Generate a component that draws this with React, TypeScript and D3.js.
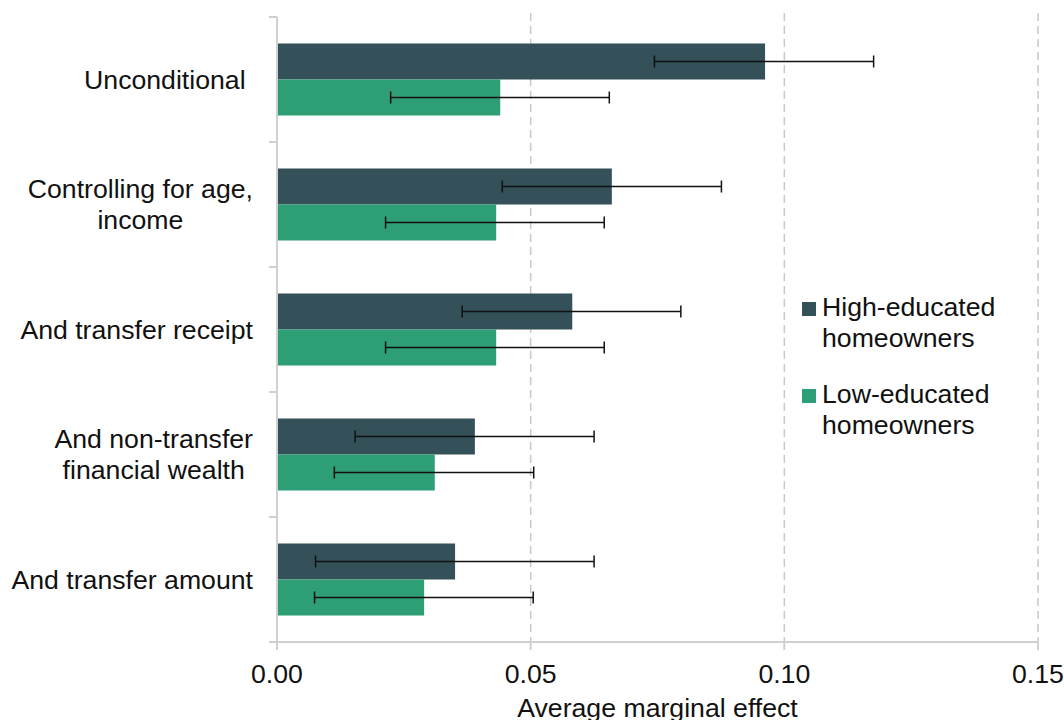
import React, { useEffect, useRef } from "react";
import * as d3 from "d3";

const categories = [
  "Unconditional ",
  "Controlling for age,\nincome",
  "And transfer receipt",
  "And non-transfer\nfinancial wealth",
  "And transfer amount",
];
const seriesNames = ["High-educated homeowners", "Low-educated homeowners"];
const legendLines = [["High-educated", "homeowners"], ["Low-educated", "homeowners"]];
const highValues = [0.0962, 0.066, 0.0582, 0.039, 0.0351];
const highLow = [0.0744, 0.0444, 0.0365, 0.0154, 0.0076];
const highHigh = [0.1176, 0.0876, 0.0796, 0.0625, 0.0625];
const lowValues = [0.044, 0.0432, 0.0432, 0.0311, 0.029];
const lowLow = [0.0224, 0.0214, 0.0214, 0.0113, 0.0074];
const lowHigh = [0.0655, 0.0645, 0.0645, 0.0506, 0.0505];
const xTicks = [0, 0.05, 0.1, 0.15];
const colors = ["#345058", "#2e9e74"];

const FONT = "'Liberation Sans', Arial, sans-serif";
const FS = 26.67;

export default function App() {
  const ref = useRef<SVGSVGElement | null>(null);
  useEffect(() => {
    const svg = d3.select(ref.current);
    svg.selectAll("*").remove();
    const x = d3.scaleLinear().domain([0, 0.15]).range([277, 1038]);
    const y = d3.scaleBand().domain(categories).range([17, 642]).paddingInner(0);
    const inner = d3
      .scaleBand()
      .domain(seriesNames)
      .range([0, y.bandwidth()])
      .paddingInner(0)
      .paddingOuter(0.736);

    const grid = svg.append("g");
    xTicks.slice(1).forEach((t) => {
      grid
        .append("line")
        .attr("x1", x(t))
        .attr("x2", x(t))
        .attr("y1", 13)
        .attr("y2", 642)
        .attr("stroke", "#c8c8c8")
        .attr("stroke-width", 1.5)
        .attr("stroke-dasharray", "8,5");
    });

    const series = [
      { name: seriesNames[0], v: highValues, lo: highLow, hi: highHigh, c: colors[0] },
      { name: seriesNames[1], v: lowValues, lo: lowLow, hi: lowHigh, c: colors[1] },
    ];
    series.forEach((s) => {
      const g = svg.append("g");
      categories.forEach((cat, i) => {
        const y0 = (y(cat) as number) + (inner(s.name) as number);
        g.append("rect")
          .attr("x", x(0) + 1)
          .attr("y", y0)
          .attr("width", x(s.v[i]) - x(0) - 1)
          .attr("height", inner.bandwidth())
          .attr("fill", s.c);
      });
    });
    series.forEach((s) => {
      const g = svg.append("g");
      categories.forEach((cat, i) => {
        const yc = (y(cat) as number) + (inner(s.name) as number) + inner.bandwidth() / 2;
        g.append("line")
          .attr("x1", x(s.lo[i]))
          .attr("x2", x(s.hi[i]))
          .attr("y1", yc)
          .attr("y2", yc)
          .attr("stroke", "#111")
          .attr("stroke-width", 1.5);
        [s.lo[i], s.hi[i]].forEach((v) => {
          g.append("line")
            .attr("x1", x(v))
            .attr("x2", x(v))
            .attr("y1", yc - 6)
            .attr("y2", yc + 6)
            .attr("stroke", "#111")
            .attr("stroke-width", 1.5);
        });
      });
    });

    // axes
    const ax = svg.append("g").attr("stroke", "#d0d0d0").attr("stroke-width", 2);
    ax.append("line").attr("x1", 277).attr("x2", 277).attr("y1", 17).attr("y2", 642);
    ax.append("line").attr("x1", 269).attr("x2", 1038).attr("y1", 642).attr("y2", 642);
    const bounds = categories.map((c) => y(c) as number).concat([642]);
    bounds.forEach((b) => {
      ax.append("line").attr("x1", 269).attr("x2", 277).attr("y1", b).attr("y2", b);
    });
    xTicks.forEach((t) => {
      ax.append("line").attr("x1", x(t)).attr("x2", x(t)).attr("y1", 642).attr("y2", 650);
    });

    const txt = svg.append("g").attr("font-family", FONT).attr("font-size", FS).attr("fill", "#111");
    xTicks.forEach((t) => {
      txt
        .append("text")
        .attr("x", x(t))
        .attr("y", 683)
        .attr("text-anchor", "middle")
        .text(d3.format(".2f")(t));
    });
    txt
      .append("text")
      .attr("x", (x(0) + x(0.15)) / 2)
      .attr("y", 717)
      .attr("text-anchor", "middle")
      .text("Average marginal effect");

    const canvas = document.createElement("canvas");
    const ctx = canvas.getContext("2d")!;
    ctx.font = `${FS}px ${FONT}`;
    categories.forEach((cat) => {
      const lines = cat.split("\n");
      const widths = lines.map((l) => ctx.measureText(l).width);
      const maxW = Math.max(...widths);
      const cx = 253 - maxW / 2;
      const yc = (y(cat) as number) + y.bandwidth() / 2;
      const lh = 31;
      lines.forEach((l, j) => {
        const yy = yc + (j - (lines.length - 1) / 2) * lh + 9;
        txt
          .append("text")
          .attr("x", cx - widths[j] / 2)
          .attr("y", yy)
          .attr("text-anchor", "start")
          .text(l.trim());
      });
    });

    const legY = [302, 389];
    legendLines.forEach((ls, i) => {
      svg
        .append("rect")
        .attr("x", 802)
        .attr("y", legY[i])
        .attr("width", 14)
        .attr("height", 14)
        .attr("fill", colors[i]);
      ls.forEach((l, j) => {
        txt
          .append("text")
          .attr("x", 822)
          .attr("y", legY[i] + 14 + j * 31)
          .text(l);
      });
    });
  }, []);
  return (
    <svg
      ref={ref}
      width={1064}
      height={720}
      style={{ position: "absolute", left: 0, top: 0, background: "#fff" }}
    />
  );
}
